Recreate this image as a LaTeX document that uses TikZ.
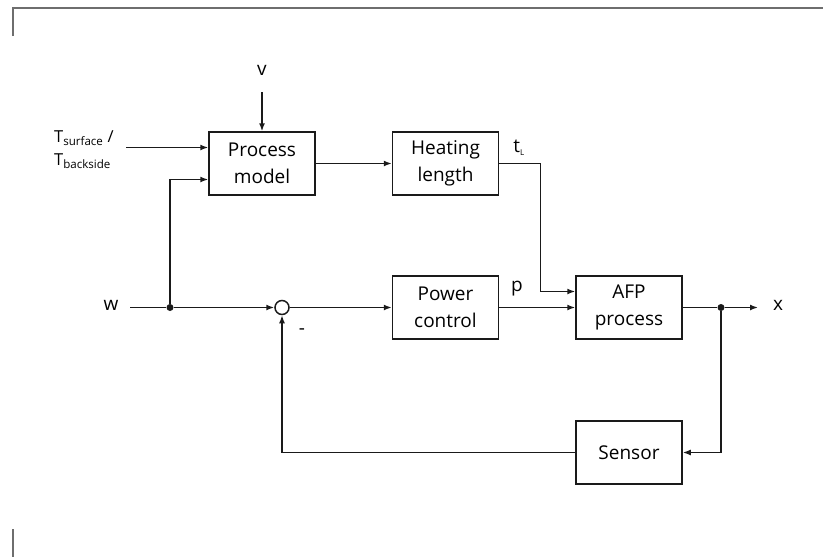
\documentclass[tikz,border=0pt]{standalone}
\usepackage{fontspec}
\setmainfont{Open Sans}
\usepackage{tikz}
\usetikzlibrary{arrows.meta, positioning, calc}
\definecolor{FrameGray}{HTML}{6E6E6E}
\definecolor{LineBlack}{HTML}{1A1A1A}
\tikzset{
    % Node styles
    blockbox/.style={
        rectangle,
        draw=LineBlack,
        fill=white,
        line width=1.5pt,
        minimum width=106pt,
        minimum height=63pt,
        align=center,
        font=\fontsize{19}{26.5}\selectfont
    },
    sumnode/.style={
        circle,
        draw=LineBlack,
        line width=1.5pt,
        minimum size=14pt,
        inner sep=0pt
    },
    dotnode/.style={
        circle,
        fill=LineBlack,
        minimum size=7pt,
        inner sep=0pt
    },
    signallabel/.style={
        font=\fontsize{19}{23}\selectfont,
        inner sep=0pt
    },
    % Arrow styles
    myarrow/.style={
        -{Latex[length=8pt,width=6pt]},
        line width=1.5pt,
        LineBlack
    },
    myline/.style={
        line width=1.5pt,
        LineBlack
    },
    framestroke/.style={
        draw=FrameGray,
        line width=2pt
    }
}
\begin{document}
\begin{tikzpicture}[x=1pt, y=-1pt]
    \useasboundingbox (0,0) rectangle (823,557);

    % Frame
    \draw[framestroke] (13,36) -- (13,7.5) -- (823,7.5);
    \draw[framestroke] (13,529) -- (13,557);

    % Blocks
    \node[blockbox] (model) at (262,163.5) {Process\\model};
    \node[blockbox] (heat) at (445.5,163.5) {Heating\\length};
    \node[blockbox] (power) at (445.5,307.5) {Power\\control};
    \node[blockbox] (afp) at (629,307.5) {AFP\\process};
    \node[blockbox] (sensor) at (629,452.5) {Sensor};

    % Summing point and branch points
    \node[sumnode] (sum) at (282,307.5) {};
    \node[dotnode] (split) at (170,307.5) {};
    \node[dotnode] (branch) at (721,307.5) {};

    % Signal labels
    \node[signallabel] (wlabel) at (111,305) {w};
    \node[signallabel] (xlabel) at (778,305) {x};
    \node[signallabel] (vlabel) at (262,70) {v};
    \node[signallabel,font=\fontsize{16.5}{23}\selectfont,align=left,anchor=west] (tlabel) at (54,150)
        {T\textsubscript{surface} /\\T\textsubscript{backside}};
    \node[signallabel] (tllabel) at (519,148) {t\textsubscript{\footnotesize L}};
    \node[signallabel] (plabel) at (517,289) {p};
    \node[signallabel] (minus) at (302,332) {-};

    % Free ends
    \coordinate (win) at (130,307.5);
    \coordinate (tin) at (126,147.5);
    \coordinate (vin) at (262,92);
    \coordinate (xout) at (758,307.5);

    % Arrows
    \draw[myline] (win) -- (split);
    \draw[myarrow] (split) -- (sum.west);
    \draw[myarrow] (split) |- ($(model.west)+(0,16)$);
    \draw[myarrow] (tin) -- (tin -| model.west);
    \draw[myarrow] (vin) -- (model.north);
    \draw[myarrow] (model) -- (heat);
    \draw[myarrow] (heat.east) -- ++(41,0) |- ($(afp.west)+(0,-16)$);
    \draw[myarrow] (sum) -- (power);
    \draw[myarrow] (power) -- (afp);
    \draw[myline] (afp) -- (branch);
    \draw[myarrow] (branch) -- (xout);
    \draw[myarrow] (branch) |- (sensor.east);
    \draw[myarrow] (sensor.west) -| (sum.south);
\end{tikzpicture}
\end{document}
